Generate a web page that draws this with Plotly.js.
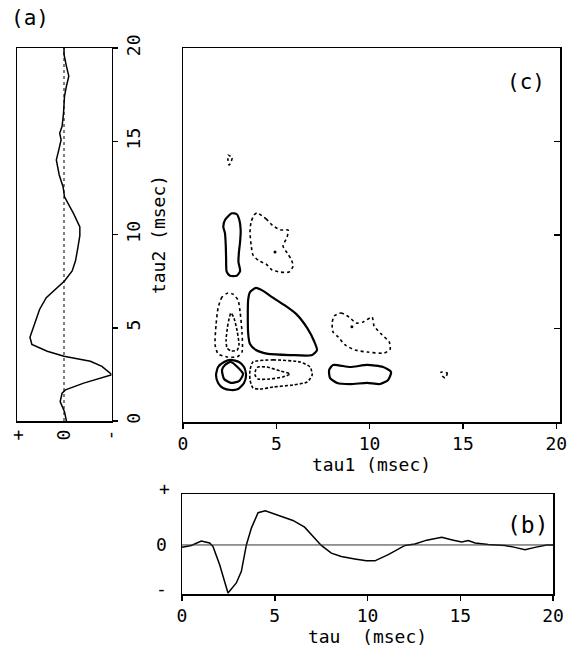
<!DOCTYPE html>
<html><head><meta charset="utf-8">
<script src="https://cdn.plot.ly/plotly-3.0.1.min.js"></script>
<style>html,body{margin:0;padding:0;background:#fff}#plot{width:582px;height:649px}</style>
</head><body><div id="plot"></div>
<script>
// First-order kernel h1(tau), arbitrary units (panel a is the same curve rotated)
const tau = [0, 0.5, 1.04, 1.49, 1.67, 2.03, 2.48, 2.93, 3.2, 3.47, 3.74, 4.1, 4.49, 5.17, 5.98, 6.61, 7.15, 7.51, 8.05, 8.59, 9.31, 9.94, 10.4, 11.12, 12.02, 12.56, 13.19, 14.0, 14.63, 15.08, 15.43, 15.8, 16.51, 17.41, 17.95, 18.49, 19.03, 19.66, 20];
const h1  = [-0.05, -0.01, 0.08, 0.04, -0.03, -0.41, -1.0, -0.79, -0.55, 0, 0.35, 0.67, 0.71, 0.62, 0.51, 0.37, 0.15, -0.01, -0.17, -0.24, -0.29, -0.33, -0.33, -0.2, -0.01, 0.02, 0.1, 0.16, 0.1, 0.06, 0.09, 0.04, 0.01, -0.01, -0.05, -0.1, -0.05, 0.0, 0.0];

// Second-order kernel contours (tau1, tau2 in msec)
// positive (solid)
const posBarT1 = [2.61,2.25,2.16,2.25,2.29,2.31,2.34,2.52,2.88,3.06,2.97,3.00,3.06,3.09,3.02,2.88];
const posBarT2 = [11.16,10.80,10.44,10.09,9.47,8.75,8.04,7.82,7.82,8.07,8.57,9.11,9.64,10.27,10.80,11.11];
const posTriT1 = [3.91,3.59,3.49,3.49,3.59,3.91,4.56,5.74,6.92,7.18,7.02,6.65,6.06,5.42,4.77,4.29];
const posTriT2 = [7.17,6.95,6.52,4.76,4.17,3.85,3.64,3.58,3.58,3.85,4.33,5.03,5.78,6.26,6.68,7.01];
const posCircT1 = [2.57,3.00,3.27,3.38,3.27,2.95,2.57,2.14,1.88,1.77,1.88,2.20];
const posCircT2 = [3.32,3.21,2.94,2.51,2.09,1.76,1.71,1.82,2.09,2.51,2.94,3.21];
const posPentT1 = [2.57,3.22,3.00,2.57,2.20,2.09,2.25];
const posPentT2 = [3.21,2.57,2.19,2.09,2.30,2.78,3.05];
const posRightT1 = [8.04,8.95,9.87,10.72,11.15,10.99,10.56,9.87,8.95,8.26,7.88,7.83];
const posRightT2 = [3.05,2.94,3.05,2.94,2.67,2.25,2.03,2.09,2.03,2.09,2.35,2.78];
// negative (dotted / dashed)
const negTopT1 = [2.41,2.63,2.57,2.47,2.41];
const negTopT2 = [14.28,14.12,13.9,13.74,14.0];
const negUpT1 = [3.97,4.45,4.83,5.25,5.63,5.58,5.36,5.58,5.79,5.90,5.68,5.20,4.77,4.45,4.08,3.75,3.65,3.59,3.65,3.81];
const negUpT2 = [11.18,10.86,10.48,10.27,10.27,9.89,9.41,9.04,8.72,8.34,8.02,8.02,8.13,8.45,8.61,8.93,9.47,10.16,10.70,11.07];
const negLeftT1 = [2.41,2.09,1.88,1.77,1.72,1.88,2.36,2.90,3.16,3.16,3.06,2.95,2.68];
const negLeftT2 = [6.90,6.68,6.10,5.19,4.12,3.64,3.48,3.48,3.74,4.81,5.88,6.52,6.84];
const negLeftInT1 = [2.57,2.41,2.31,2.36,2.57,2.90,3.00,2.90,2.73];
const negLeftInT2 = [5.83,5.24,4.39,3.96,3.80,3.85,4.12,4.87,5.56];
const negMidT1 = [3.75,4.83,6.27,6.81,6.92,6.65,5.90,4.83,4.13,3.75,3.59,3.59];
const negMidT2 = [3.21,3.32,3.21,2.94,2.51,2.14,1.98,1.87,1.76,1.82,2.25,2.78];
const negMidInT1 = [4.02,4.50,5.20,5.74,5.36,4.66,4.02,3.86,3.91];
const negMidInT2 = [2.94,2.94,2.73,2.57,2.41,2.30,2.30,2.51,2.83];
const negRightT1 = [8.10,8.47,8.90,9.28,9.65,10.13,10.24,10.62,11.05,11.10,10.78,9.87,9.22,8.69,8.31,8.04,7.99];
const negRightT2 = [5.67,5.83,5.61,5.29,5.35,5.61,5.13,4.71,4.28,3.90,3.69,3.74,3.85,4.12,4.55,4.81,5.29];
const negTinyT1 = [13.83,14.16,14.05,13.89];
const negTinyT2 = [2.67,2.62,2.35,2.46];
const dotT1 = [4.93, 9.05];
const dotT2 = [9.09, 5.10];

const close = a => a.concat([a[0]]);
const W = 582, H = 649;
const px = v => v / W, py = v => 1 - v / H;
const FONT = {family: 'DejaVu Sans Mono, Liberation Mono, monospace', size: 18, color: '#000'};

function contour(t1, t2, dash, width) {
  return {x: close(t1), y: close(t2), xaxis: 'x3', yaxis: 'y3', type: 'scatter', mode: 'lines',
    line: {color: '#000', width: width, dash: dash, shape: 'spline', smoothing: 0.6}, hoverinfo: 'skip', showlegend: false};
}

const traces = [
  {x: h1, y: tau, xaxis: 'x', yaxis: 'y', type: 'scatter', mode: 'lines', line: {color: '#000', width: 1.5}, showlegend: false},
  {x: tau, y: h1, xaxis: 'x2', yaxis: 'y2', type: 'scatter', mode: 'lines', line: {color: '#000', width: 1.5}, showlegend: false},
  contour(posBarT1, posBarT2, 'solid', 2.2),
  contour(posTriT1, posTriT2, 'solid', 2.2),
  contour(posCircT1, posCircT2, 'solid', 2.2),
  contour(posPentT1, posPentT2, 'solid', 2.2),
  contour(posRightT1, posRightT2, 'solid', 2.2),
  contour(negTopT1, negTopT2, 'dot', 1.6),
  contour(negUpT1, negUpT2, 'dot', 1.6),
  contour(negLeftT1, negLeftT2, 'dot', 1.6),
  contour(negLeftInT1, negLeftInT2, '3px,2px', 1.6),
  contour(negMidT1, negMidT2, '3px,2px', 1.6),
  contour(negMidInT1, negMidInT2, '3px,2px', 1.6),
  contour(negRightT1, negRightT2, 'dot', 1.6),
  contour(negTinyT1, negTinyT2, 'dot', 1.6),
  {x: dotT1, y: dotT2, xaxis: 'x3', yaxis: 'y3', type: 'scatter', mode: 'markers', marker: {color: '#000', size: 3}, showlegend: false}
];

const axBase = {showline: true, linecolor: '#000', linewidth: 1.5, mirror: true, showgrid: false, zeroline: false,
  tickfont: FONT, tickcolor: '#000', automargin: false, fixedrange: true};

function label(text, x, y, size) {
  return {text: text, xref: 'paper', yref: 'paper', x: px(x), y: py(y), xanchor: 'center', yanchor: 'middle',
    showarrow: false, font: {family: FONT.family, size: size, color: '#000'}};
}

const layout = {
  width: W, height: H, margin: {l: 0, r: 0, t: 0, b: 0}, paper_bgcolor: '#fff', plot_bgcolor: '#fff',
  font: FONT, showlegend: false,
  xaxis: Object.assign({}, axBase, {domain: [px(17), px(111.5)], anchor: 'y', range: [0.98, -0.99],
    tickmode: 'array', tickvals: [0.96, 0, -0.96], ticktext: ['+', '0', '-'], tickangle: -90, ticks: ''}),
  yaxis: Object.assign({}, axBase, {domain: [py(421), py(48)], anchor: 'x', range: [0, 20], side: 'right',
    tickmode: 'array', tickvals: [0, 5, 10, 15, 20], ticks: 'outside', ticklen: 5, tickwidth: 1.5, tickangle: -90,
    title: {text: 'tau2 (msec)', font: FONT, standoff: 10}}),
  xaxis2: Object.assign({}, axBase, {domain: [px(182), px(553)], anchor: 'y2', range: [0, 20],
    tickmode: 'array', tickvals: [0, 5, 10, 15, 20], ticks: 'outside', ticklen: 5, tickwidth: 1.5,
    title: {text: 'tau\u00a0\u00a0(msec)', font: FONT, standoff: 2}}),
  yaxis2: Object.assign({}, axBase, {domain: [py(594), py(494)], anchor: 'x2', range: [-1.02, 1.06],
    tickmode: 'array', tickvals: [0, -0.9], ticktext: ['0', '-'], ticks: '', ticklabelstandoff: 10}),
  xaxis3: Object.assign({}, axBase, {domain: [px(183), px(560)], anchor: 'y3', range: [0, 20.2],
    tickmode: 'array', tickvals: [0, 5, 10, 15, 20], ticks: 'outside', ticklen: 5, tickwidth: 1.5,
    title: {text: 'tau1 (msec)', font: FONT, standoff: 2}}),
  yaxis3: Object.assign({}, axBase, {domain: [py(422), py(48)], anchor: 'x3', range: [0, 20], side: 'right',
    tickmode: 'array', tickvals: [5, 10, 15], ticks: 'inside', ticklen: 6, tickwidth: 1.5, showticklabels: false}),
  shapes: [
    {type: 'line', xref: 'x', yref: 'y', x0: 0, x1: 0, y0: 0, y1: 20, line: {color: '#000', width: 1, dash: 'dot'}},
    {type: 'line', xref: 'x2', yref: 'y2', x0: 0, x1: 20, y0: 0, y1: 0, line: {color: '#333', width: 1}}
  ],
  annotations: [
    label('(a)', 30, 18, 21),
    label('(c)', 526, 82, 21),
    label('(b)', 528, 525, 23),
    label('+', 164, 488, 18)
  ]
};

Plotly.newPlot('plot', traces, layout, {staticPlot: true, displayModeBar: false});
</script>
</body></html>
